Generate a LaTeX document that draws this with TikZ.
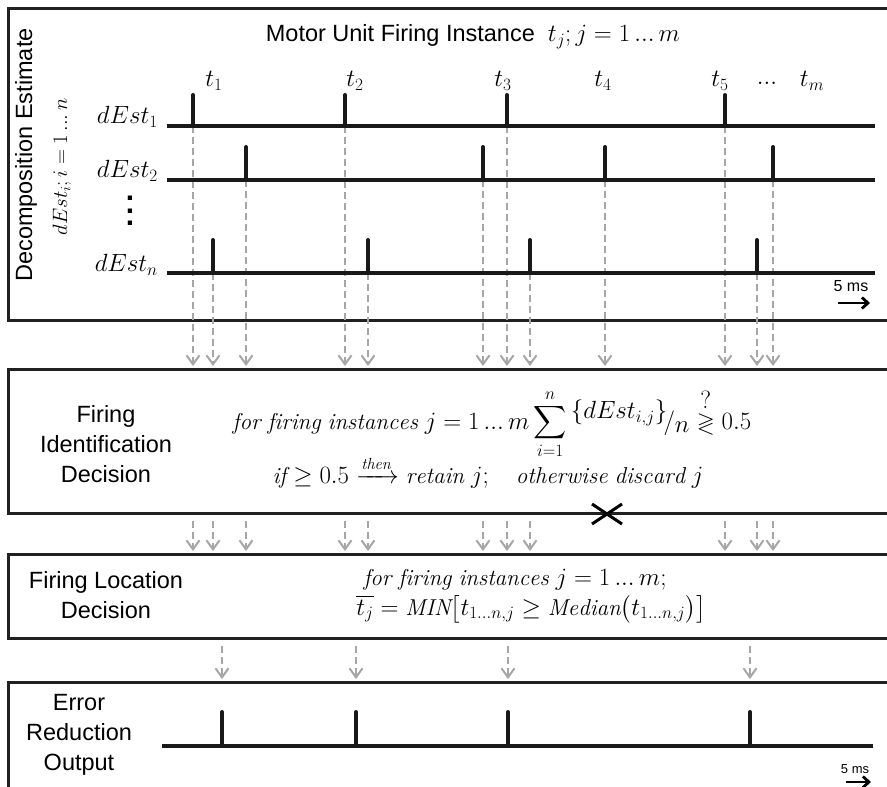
\documentclass[tikz,border=0pt]{standalone}
\usepackage{amsmath,amssymb}
\usepackage{fontspec}
\newfontfamily\arialf{Liberation Sans}
\usetikzlibrary{arrows.meta,calc}
\newcommand{\tdots}{\,{.}{.}{.}\,}
\newcommand{\sdots}{{.}{.}{.}}
\begin{document}
\begin{tikzpicture}[x=1pt,y=-1pt,
  box/.style={draw=black!87, line width=3pt},
  base/.style={line width=4.5pt, draw=black!90},
  spike/.style={line width=4pt, draw=black!90, line cap=round},
  darr/.style={draw=black!35, line width=2pt, dash pattern=on 7pt off 4pt,
     -{Straight Barb[length=9pt,width=13pt,line width=2pt]}},
  scal/.style={line width=2.8pt, draw=black, -{Straight Barb[length=6pt,width=11pt,line width=2.8pt]}},
  lab/.style={font=\arialf\fontsize{23.5}{30}\selectfont, align=center, inner sep=0pt},
  mth/.style={font=\fontsize{23}{28}\selectfont, inner sep=0pt},
]
\clip (0,0) rectangle (887,787);
\fill[white] (0,0) rectangle (887,787);

% boxes
\draw[box] (8,8) rectangle (900,320);
\draw[box] (8,369) rectangle (900,513);
\draw[box] (8,554) rectangle (900,638);
\draw[box] (8,682) rectangle (900,800);
\coordinate (b2t) at (0,366);
\coordinate (b3t) at (0,551);
\coordinate (b4t) at (0,679);

% spike coordinates
\foreach \x [count=\k] in {193,345,507,725} {\coordinate (pa\k) at (\x,126);}
\foreach \x [count=\k] in {246,483,605,773} {\coordinate (pb\k) at (\x,180);}
\foreach \x [count=\k] in {213,368,530,757} {\coordinate (pc\k) at (\x,273);}

% dashed arrows to box 2
\foreach \p in {pa1,pa2,pa3,pa4,pb1,pb2,pb3,pb4,pc1,pc2,pc3,pc4} {
  \draw[darr] (\p) -- (\p |- b2t);
}
% dashed arrows to box 3
\foreach \x [count=\k] in {193,213,246,345,368,483,507,530,725,757,773} {
  \coordinate (qa\k) at (\x,521);
  \draw[darr] (qa\k) -- (qa\k |- b3t);
}
% dashed arrows to box 4
\foreach \x [count=\k] in {222,356,508,750} {
  \coordinate (ra\k) at (\x,646);
  \draw[darr] (ra\k) -- (ra\k |- b4t);
}

% baselines
\coordinate (l1s) at (167,126); \coordinate (l1e) at (875,126);
\coordinate (l2s) at (167,180); \coordinate (l2e) at (875,180);
\coordinate (l3s) at (167,273); \coordinate (l3e) at (875,273);
\draw[base] (l1s) -- (l1e);
\draw[base] (l2s) -- (l2e);
\draw[base] (l3s) -- (l3e);
\foreach \k in {1,2,3,4} {
  \draw[spike] (pa\k) -- ++(0,-31);
  \draw[spike] (pb\k) -- ++(0,-33);
  \draw[spike] (pc\k) -- ++(0,-33);
}

% output line
\coordinate (l4s) at (162,746); \coordinate (l4e) at (873,746);
\draw[base] (l4s) -- (l4e);
\foreach \x [count=\k] in {222,356,508,750} {
  \coordinate (oa\k) at (\x,746);
  \draw[spike] (oa\k) -- ++(0,-34);
}

% cross
\coordinate (xc) at (607,514);
\draw[line width=3pt, black] ($(xc)+(-15,-10)$) -- ($(xc)+(15,10)$);
\draw[line width=3pt, black] ($(xc)+(-15,10)$) -- ($(xc)+(15,-10)$);

% titles and labels
\node[lab] (title) at (473,37) {Motor Unit Firing Instance\ \ {\fontsize{23}{28}\selectfont$t_j; j = 1\tdots m$}};
\foreach \x/\t [count=\k] in {214/t_1,355/t_2,503/t_3,603/t_4,720/t_5,812/t_m} {
  \node[mth] (tl\k) at (\x,81) {$\t$};
}
\node[mth] (tdots) at (767,83) {$\sdots$};

\node[mth, anchor=east] (d1) at (158,117) {$dEst_1$};
\node[mth, anchor=east] (d2) at (158,171) {$dEst_2$};
\node[mth, anchor=east] (dn) at (158,265) {$dEst_n$};
\node[font=\arialf\bfseries\fontsize{30}{12.5}\selectfont, align=center, inner sep=0pt] (vd) at (130,211) {.\\.\\.};

\node[lab, rotate=90] (dec) at (26,155) {Decomposition Estimate};
\node[inner sep=0pt, font=\fontsize{22.5}{26}\selectfont, rotate=90] (deci) at (62,167) {$dEst_i; i = 1\tdots n$};

\node[font=\arialf\fontsize{16}{18}\selectfont, inner sep=0pt] (ms1) at (851,286) {5 ms};
\coordinate (m1a) at (838,303); \coordinate (m1b) at (870,303);
\draw[scal] (m1a) -- (m1b);
\node[font=\arialf\fontsize{13}{15}\selectfont, inner sep=0pt] (ms2) at (855,769) {5 ms};
\coordinate (m2a) at (846,782); \coordinate (m2b) at (871,782);
\draw[scal] (m2a) -- (m2b);

% box 2
\node[lab] (fid) at (106,444) {Firing\\Identification\\Decision};
\node[mth] (f1) at (492,424) {$\mathit{for\ firing\ instances}\ j = 1\tdots m \displaystyle\sum_{i=1}^{n} {}^{\textstyle\{dEst_{i,j}\}}\!/_{\textstyle n} \overset{\textstyle ?}{\gtrless} 0.5$};
\node[mth] (f2) at (488,472) {$\mathit{if} \geq 0.5 \xrightarrow{\mathit{then}} \mathit{retain}\ j;\quad \mathit{otherwise\ discard}\ j$};

% box 3
\node[lab, align=center] (fld) at (106,595) {Firing Location\\Decision};
\node[mth] (g1) at (515,580) {$\mathit{for\ firing\ instances}\ j = 1\tdots m;$};
\node[mth] (g2) at (531,609) {$\overline{t_j} = \mathit{MIN}\bigl[t_{1\sdots n,j} \geq \mathit{Median}\bigl(t_{1\sdots n,j}\bigr)\bigr]$};

% box 4
\node[lab] (ero) at (79,735) {Error\\Reduction\\Output};
\end{tikzpicture}
\end{document}
